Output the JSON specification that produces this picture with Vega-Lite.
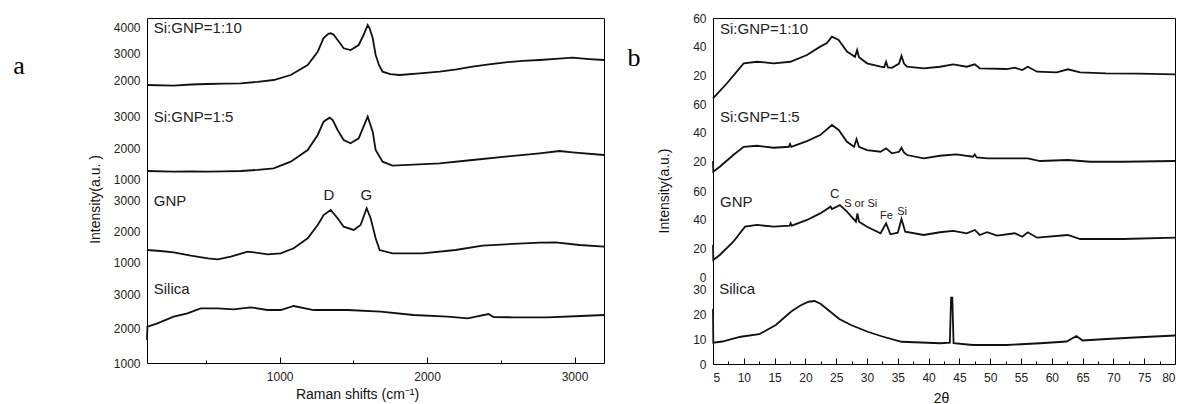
{
  "$schema": "https://vega.github.io/schema/vega-lite/v6.json",
  "padding": {"left": 12, "top": 11, "right": 0, "bottom": 0},
  "spacing": 17,
  "datasets": {
    "a10": [{"x":100,"y":1811},{"x":281,"y":1785},{"x":400,"y":1830},{"x":512,"y":1849},{"x":620,"y":1860},{"x":736,"y":1875},{"x":850,"y":1930},{"x":959,"y":2000},{"x":1075,"y":2189},{"x":1190,"y":2566},{"x":1258,"y":3068},{"x":1298,"y":3585},{"x":1330,"y":3740},{"x":1346,"y":3762},{"x":1365,"y":3720},{"x":1393,"y":3509},{"x":1434,"y":3196},{"x":1481,"y":3132},{"x":1536,"y":3321},{"x":1569,"y":3698},{"x":1597,"y":4075},{"x":1610,"y":3950},{"x":1631,"y":3585},{"x":1651,"y":2943},{"x":1675,"y":2550},{"x":1698,"y":2313},{"x":1750,"y":2220},{"x":1814,"y":2189},{"x":1950,"y":2250},{"x":2085,"y":2313},{"x":2200,"y":2400},{"x":2308,"y":2502},{"x":2420,"y":2590},{"x":2532,"y":2668},{"x":2650,"y":2720},{"x":2763,"y":2755},{"x":2870,"y":2800},{"x":2986,"y":2842},{"x":3100,"y":2790},{"x":3200,"y":2755}],
    "a5": [{"x":100,"y":1286},{"x":281,"y":1263},{"x":400,"y":1270},{"x":512,"y":1263},{"x":620,"y":1275},{"x":736,"y":1286},{"x":850,"y":1320},{"x":959,"y":1371},{"x":1075,"y":1581},{"x":1190,"y":1952},{"x":1258,"y":2429},{"x":1298,"y":2851},{"x":1339,"y":2978},{"x":1360,"y":2900},{"x":1393,"y":2587},{"x":1434,"y":2270},{"x":1481,"y":2165},{"x":1536,"y":2324},{"x":1569,"y":2692},{"x":1597,"y":3010},{"x":1631,"y":2533},{"x":1651,"y":1952},{"x":1698,"y":1581},{"x":1766,"y":1454},{"x":2085,"y":1530},{"x":2308,"y":1635},{"x":2532,"y":1740},{"x":2763,"y":1848},{"x":2898,"y":1921},{"x":2986,"y":1879},{"x":3200,"y":1794}],
    "aG": [{"x":100,"y":1419},{"x":193,"y":1387},{"x":281,"y":1345},{"x":397,"y":1235},{"x":512,"y":1152},{"x":580,"y":1119},{"x":668,"y":1203},{"x":783,"y":1365},{"x":824,"y":1345},{"x":919,"y":1281},{"x":1007,"y":1313},{"x":1095,"y":1474},{"x":1190,"y":1797},{"x":1258,"y":2226},{"x":1298,"y":2548},{"x":1346,"y":2710},{"x":1393,"y":2442},{"x":1434,"y":2171},{"x":1502,"y":2065},{"x":1549,"y":2226},{"x":1590,"y":2765},{"x":1617,"y":2442},{"x":1651,"y":1797},{"x":1678,"y":1419},{"x":1766,"y":1313},{"x":1969,"y":1313},{"x":2193,"y":1419},{"x":2376,"y":1558},{"x":2532,"y":1603},{"x":2763,"y":1655},{"x":2871,"y":1668},{"x":3034,"y":1581},{"x":3200,"y":1526}],
    "aS": [{"x":100,"y":1667},{"x":103,"y":2052},{"x":171,"y":2151},{"x":281,"y":2342},{"x":374,"y":2441},{"x":464,"y":2586},{"x":578,"y":2586},{"x":688,"y":2557},{"x":803,"y":2614},{"x":917,"y":2536},{"x":1007,"y":2536},{"x":1095,"y":2652},{"x":1231,"y":2536},{"x":1461,"y":2536},{"x":1685,"y":2487},{"x":1908,"y":2391},{"x":2139,"y":2342},{"x":2275,"y":2296},{"x":2417,"y":2420},{"x":2450,"y":2330},{"x":2586,"y":2325},{"x":2817,"y":2325},{"x":3041,"y":2362},{"x":3200,"y":2391}],
    "b10": [{"x":5,"y":3.6},{"x":7.27,"y":14.2},{"x":9.98,"y":28.2},{"x":12.14,"y":29.3},{"x":14.85,"y":28.2},{"x":17.55,"y":29.3},{"x":20.26,"y":34.0},{"x":22.4,"y":39.9},{"x":23.5,"y":42.5},{"x":24.3,"y":46.9},{"x":25.4,"y":44.6},{"x":26.75,"y":36.4},{"x":28.05,"y":32.8},{"x":28.4,"y":37.5},{"x":28.7,"y":32.5},{"x":30.0,"y":28.2},{"x":32.2,"y":25.8},{"x":32.8,"y":25.5},{"x":33.1,"y":29.3},{"x":33.4,"y":25.3},{"x":34.06,"y":25.1},{"x":35.2,"y":28},{"x":35.6,"y":33.5},{"x":36.0,"y":28},{"x":36.5,"y":25.8},{"x":39.2,"y":24.7},{"x":41.85,"y":25.8},{"x":44.0,"y":27.5},{"x":46.2,"y":25.8},{"x":47.5,"y":27.5},{"x":48.3,"y":24.7},{"x":52.7,"y":24.2},{"x":54.0,"y":25.1},{"x":55.2,"y":23.5},{"x":56.1,"y":25.8},{"x":57.6,"y":22.3},{"x":60.8,"y":21.9},{"x":62.6,"y":24.0},{"x":64.6,"y":21.9},{"x":68.8,"y":21.2},{"x":74.2,"y":20.9},{"x":80,"y":20.5}],
    "b5": [{"x":5,"y":20},{"x":5.05,"y":12.5},{"x":6.1,"y":16.0},{"x":8.3,"y":24.2},{"x":9.98,"y":30.0},{"x":12.14,"y":30.7},{"x":14.85,"y":29.3},{"x":17.3,"y":30.0},{"x":17.5,"y":32},{"x":17.7,"y":30},{"x":20.26,"y":34.0},{"x":22.4,"y":38.2},{"x":24.3,"y":45.3},{"x":25.4,"y":41.8},{"x":26.75,"y":33.5},{"x":27.9,"y":30.0},{"x":28.3,"y":35.4},{"x":28.7,"y":30.0},{"x":30.0,"y":27.7},{"x":32.2,"y":26.5},{"x":33.1,"y":28.9},{"x":34.06,"y":25.4},{"x":35.2,"y":26.5},{"x":35.6,"y":29.3},{"x":36.0,"y":26},{"x":36.5,"y":24.2},{"x":39.2,"y":21.9},{"x":41.85,"y":23.7},{"x":44.5,"y":24.7},{"x":47.2,"y":23.0},{"x":47.5,"y":24.5},{"x":47.8,"y":22.5},{"x":49.6,"y":21.9},{"x":54.0,"y":21.9},{"x":56.1,"y":21.9},{"x":58.1,"y":20},{"x":62.6,"y":20.7},{"x":66.2,"y":19.5},{"x":71.6,"y":19.5},{"x":80,"y":20}],
    "bG": [{"x":5,"y":22.4},{"x":5.05,"y":11.9},{"x":6.1,"y":15.4},{"x":8.3,"y":24.7},{"x":10.2,"y":35.2},{"x":12.14,"y":36.4},{"x":14.85,"y":35.2},{"x":17.45,"y":35.9},{"x":17.6,"y":37.6},{"x":17.8,"y":35.9},{"x":20.26,"y":39.9},{"x":22.4,"y":44.5},{"x":24.1,"y":49.2},{"x":24.3,"y":47.5},{"x":25.6,"y":50.3},{"x":26.75,"y":45.7},{"x":28.2,"y":38.7},{"x":28.45,"y":44.5},{"x":28.7,"y":38.7},{"x":30.0,"y":35.2},{"x":32.2,"y":30.6},{"x":33.1,"y":37.6},{"x":33.8,"y":29.9},{"x":35.0,"y":31},{"x":35.6,"y":40.6},{"x":36.2,"y":31.7},{"x":39.2,"y":29.4},{"x":41.85,"y":31.3},{"x":44.0,"y":32.2},{"x":46.2,"y":30.6},{"x":47.5,"y":32.9},{"x":48.3,"y":29.4},{"x":49.5,"y":31.3},{"x":51.1,"y":28.9},{"x":54.0,"y":30.6},{"x":55.2,"y":28.2},{"x":56.1,"y":31.3},{"x":57.6,"y":27.5},{"x":62.6,"y":29.4},{"x":64.6,"y":26.6},{"x":71.6,"y":26.6},{"x":80,"y":27.5}],
    "bS": [{"x":5,"y":22},{"x":5.05,"y":8.5},{"x":6.5,"y":9},{"x":9.5,"y":10.9},{"x":12.5,"y":11.9},{"x":15.2,"y":15.6},{"x":17.7,"y":21},{"x":19.2,"y":23.4},{"x":20.5,"y":24.9},{"x":21.5,"y":25.2},{"x":22.5,"y":24},{"x":23.7,"y":21.6},{"x":25.5,"y":18},{"x":27.4,"y":15.6},{"x":30.1,"y":12.9},{"x":32.5,"y":11},{"x":35.6,"y":8.9},{"x":41.9,"y":8.3},{"x":43.45,"y":8.5},{"x":43.65,"y":26.5},{"x":43.85,"y":26.5},{"x":44.05,"y":8.3},{"x":47.2,"y":7.6},{"x":52.7,"y":7.6},{"x":58.1,"y":8.3},{"x":62.4,"y":9.0},{"x":64.0,"y":11.2},{"x":65.0,"y":9.4},{"x":68.9,"y":10.0},{"x":74.2,"y":10.7},{"x":80,"y":11.4}]
  },
  "hconcat": [
    {
      "width": 457,
      "height": 345,
      "layer": [
        {
          "encoding": {
            "x": {"field": "x", "type": "quantitative", "scale": {"domain": [100, 3200], "nice": false, "zero": false},
              "axis": {"orient": "bottom", "values": [1000, 2000, 3000], "format": "d", "tickSize": -6, "labelPadding": 14, "domain": false,
                "title": "Raman shifts (cm⁻¹)", "titleX": 210, "titleY": 35, "titleAlign": "center", "titleBaseline": "alphabetic"}},
            "y": {"field": "y", "type": "quantitative",
            "scale": {"domain": [-8679, 4340], "nice": false, "zero": false},
            "axis": {"orient": "left", "values": [2000, 3000, 4000], "format": "d", "ticks": false, "domain": false, "labelPadding": 7,
              "title": "a", "titleFont": "Liberation Serif", "titleFontSize": 26, "titleColor": "#000", "titleAngle": 0,
              "titleX": -128.5, "titleY": 55, "titleAlign": "center", "titleBaseline": "alphabetic"}}},
          "layer": [
            {"data": {"name": "a10"}, "mark": {"type": "line"}},
            {"data": {"values": [{"x": 146, "y": 3774, "label": "Si:GNP=1:10"}]}, "mark": {"type": "text", "fontSize": 15}, "encoding": {"text": {"field": "label"}}}
          ]
        },
        {
          "encoding": {
            "x": {"field": "x", "type": "quantitative", "scale": {"domain": [100, 3200], "nice": false, "zero": false},
              "axis": {"orient": "bottom", "values": [500, 1500, 2500], "tickSize": -3, "labels": false, "domain": false, "title": null}},
            "y": {"field": "y", "type": "quantitative",
            "scale": {"domain": [-4810, 6143], "nice": false, "zero": false},
            "axis": {"orient": "left", "values": [1000, 2000, 3000], "format": "d", "ticks": false, "domain": false, "labelPadding": 7, "title": null}}},
          "layer": [
            {"data": {"name": "a5"}, "mark": {"type": "line"}},
            {"data": {"values": [{"x": 146, "y": 2841, "label": "Si:GNP=1:5"}]}, "mark": {"type": "text", "fontSize": 15}, "encoding": {"text": {"field": "label"}}}
          ]
        },
        {
          "encoding": {
            "x": {"field": "x", "type": "quantitative", "scale": {"domain": [100, 3200], "nice": false, "zero": false}, "axis": null},
            "y": {"field": "y", "type": "quantitative",
            "scale": {"domain": [-2226, 8903], "nice": false, "zero": false},
            "axis": {"orient": "left", "values": [1000, 2000, 3000], "format": "d", "ticks": false, "domain": false, "labelPadding": 7,
              "title": "Intensity(a.u. )", "titleAngle": 270, "titleX": -52, "titleY": 181, "titleAlign": "center", "titleBaseline": "middle"}}},
          "layer": [
            {"data": {"name": "aG"}, "mark": {"type": "line"}},
            {"data": {"values": [{"x": 146, "y": 2839, "label": "GNP"}, {"x": 1298, "y": 3032, "label": "D"}, {"x": 1549, "y": 3032, "label": "G"}]}, "mark": {"type": "text", "fontSize": 15}, "encoding": {"text": {"field": "label"}}}
          ]
        },
        {
          "encoding": {
            "x": {"field": "x", "type": "quantitative", "scale": {"domain": [100, 3200], "nice": false, "zero": false}, "axis": null},
            "y": {"field": "y", "type": "quantitative",
            "scale": {"domain": [1000, 11000], "nice": false, "zero": false},
            "axis": {"orient": "left", "values": [1000, 2000, 3000], "format": "d", "ticks": false, "domain": false, "labelPadding": 7, "title": null}}},
          "layer": [
            {"data": {"name": "aS"}, "mark": {"type": "line"}},
            {"data": {"values": [{"x": 146, "y": 3000, "label": "Silica"}]}, "mark": {"type": "text", "fontSize": 15}, "encoding": {"text": {"field": "label"}}}
          ]
        }
      ],
      "resolve": {"scale": {"y": "independent"}, "axis": {"y": "independent", "x": "independent"}}
    },
    {
      "width": 462,
      "height": 346,
      "layer": [
        {
          "encoding": {
            "x": {"field": "x", "type": "quantitative", "scale": {"domain": [5, 80], "nice": false, "zero": false},
              "axis": {"orient": "bottom", "values": [5, 10, 15, 20, 25, 30, 35, 40, 45, 50, 55, 60, 65, 70, 75, 80], "tickSize": -6, "labelPadding": 14, "domain": false,
                "title": "2θ", "titleX": 228, "titleY": 38, "titleAlign": "center", "titleBaseline": "alphabetic"}},
            "y": {"field": "y", "type": "quantitative",
            "scale": {"domain": [-182.8, 60], "nice": false, "zero": false},
            "axis": {"orient": "left", "values": [20, 40, 60], "ticks": false, "domain": false, "labelPadding": 7,
              "title": "b", "titleFont": "Liberation Serif", "titleFontSize": 26, "titleColor": "#000", "titleAngle": 0,
              "titleX": -79.5, "titleY": 47, "titleAlign": "center", "titleBaseline": "alphabetic"}}},
          "layer": [
            {"data": {"name": "b10"}, "mark": {"type": "line"}},
            {"data": {"values": [{"x": 6.14, "y": 48.8, "label": "Si:GNP=1:10"}]}, "mark": {"type": "text", "fontSize": 15}, "encoding": {"text": {"field": "label"}}}
          ]
        },
        {
          "encoding": {
            "x": {"field": "x", "type": "quantitative", "scale": {"domain": [5, 80], "nice": false, "zero": false},
              "axis": {"orient": "bottom", "values": [7.5, 12.5, 17.5, 22.5, 27.5, 32.5, 37.5, 42.5, 47.5, 52.5, 57.5, 62.5, 67.5, 72.5, 77.5], "tickSize": -3, "labels": false, "domain": false, "title": null}},
            "y": {"field": "y", "type": "quantitative",
            "scale": {"domain": [-122.5, 120.4], "nice": false, "zero": false},
            "axis": {"orient": "left", "values": [20, 40, 60], "ticks": false, "domain": false, "labelPadding": 7, "title": null}}},
          "layer": [
            {"data": {"name": "b5"}, "mark": {"type": "line"}},
            {"data": {"values": [{"x": 6.14, "y": 47.4, "label": "Si:GNP=1:5"}]}, "mark": {"type": "text", "fontSize": 15}, "encoding": {"text": {"field": "label"}}}
          ]
        },
        {
          "encoding": {
            "x": {"field": "x", "type": "quantitative", "scale": {"domain": [5, 80], "nice": false, "zero": false}, "axis": null},
            "y": {"field": "y", "type": "quantitative",
            "scale": {"domain": [-60.8, 181.1], "nice": false, "zero": false},
            "axis": {"orient": "left", "values": [0, 20, 40, 60], "ticks": false, "domain": false, "labelPadding": 7,
              "title": "Intensity(a.u.)", "titleAngle": 270, "titleX": -48.5, "titleY": 172.5, "titleAlign": "center", "titleBaseline": "middle"}}},
          "layer": [
            {"data": {"name": "bG"}, "mark": {"type": "line"}},
            {"data": {"values": [{"x": 6.14, "y": 49, "label": "GNP"}]}, "mark": {"type": "text", "fontSize": 15}, "encoding": {"text": {"field": "label"}}},
            {"data": {"values": [{"x": 24.0, "y": 55.2, "label": "C"}]}, "mark": {"type": "text", "fontSize": 13}, "encoding": {"text": {"field": "label"}}},
            {"data": {"values": [{"x": 26.3, "y": 49.0, "label": "S or Si"}, {"x": 32.1, "y": 40.6, "label": "Fe"}, {"x": 34.9, "y": 43.4, "label": "Si"}]}, "mark": {"type": "text", "fontSize": 11}, "encoding": {"text": {"field": "label"}}}
          ]
        },
        {
          "encoding": {
            "x": {"field": "x", "type": "quantitative", "scale": {"domain": [5, 80], "nice": false, "zero": false}, "axis": null},
            "y": {"field": "y", "type": "quantitative",
            "scale": {"domain": [0, 138.4], "nice": false, "zero": false},
            "axis": {"orient": "left", "values": [0, 10, 20, 30], "ticks": false, "domain": false, "labelPadding": 7, "title": null}}},
          "layer": [
            {"data": {"name": "bS"}, "mark": {"type": "line"}},
            {"data": {"values": [{"x": 6.0, "y": 28, "label": "Silica"}]}, "mark": {"type": "text", "fontSize": 15}, "encoding": {"text": {"field": "label"}}}
          ]
        }
      ],
      "resolve": {"scale": {"y": "independent"}, "axis": {"y": "independent", "x": "independent"}}
    }
  ],
  "config": {
    "view": {"stroke": "#000", "strokeWidth": 1},
    "font": "Liberation Sans",
    "axis": {"labelFont": "Liberation Sans", "labelFontSize": 12, "labelColor": "#222", "titleFont": "Liberation Sans", "titleFontSize": 14, "titleFontWeight": "normal", "titleColor": "#111", "grid": false, "tickColor": "#000"},
    "line": {"color": "#111", "strokeWidth": 1.8},
    "text": {"font": "Liberation Sans", "color": "#222", "align": "left", "baseline": "alphabetic"}
  }
}
